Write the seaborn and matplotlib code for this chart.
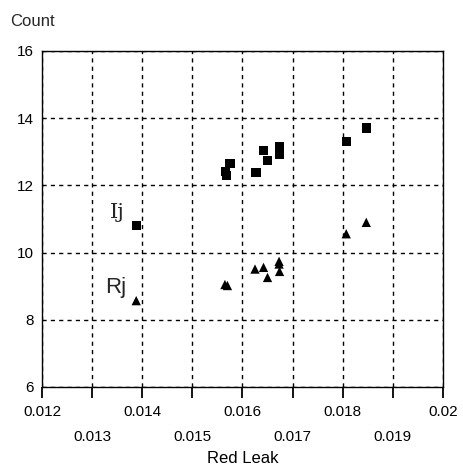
import numpy as np
import pandas as pd
import seaborn as sns
import matplotlib.pyplot as plt

# Ij (squares) and Rj (triangles)
ij_leak = [0.01388, 0.01566, 0.01568, 0.01575, 0.01627, 0.01642, 0.0165,
           0.01674, 0.01674, 0.01674, 0.01807, 0.01847]
ij_count = [10.8, 12.42, 12.30, 12.66, 12.38, 13.04, 12.75,
            13.16, 13.04, 12.92, 13.30, 13.71]

rj_leak = [0.01388, 0.01565, 0.0157, 0.01625, 0.01642, 0.0165,
           0.01673, 0.01673, 0.01674, 0.01807, 0.01847]
rj_count = [8.57, 9.05, 9.02, 9.51, 9.56, 9.26,
            9.74, 9.66, 9.44, 10.56, 10.9]

x_major = [0.012, 0.014, 0.016, 0.018, 0.02]
x_major_labels = ["0.012", "0.014", "0.016", "0.018", "0.02"]
x_minor = [0.013, 0.015, 0.017, 0.019]
x_minor_labels = ["0.013", "0.015", "0.017", "0.019"]
y_ticks = [6, 8, 10, 12, 14, 16]

df = pd.concat([
    pd.DataFrame({"leak": ij_leak, "count": ij_count, "series": "Ij"}),
    pd.DataFrame({"leak": rj_leak, "count": rj_count, "series": "Rj"}),
], ignore_index=True)

sns.set_style("ticks")
plt.rcParams['font.family'] = ['Liberation Sans', 'DejaVu Sans']

fig = plt.figure(figsize=(4.63, 4.70), dpi=100)
ax = fig.add_axes([0.0907, 0.1766, 0.866, 0.7149])

sns.scatterplot(data=df, x="leak", y="count", style="series",
                markers={"Ij": "s", "Rj": "^"}, color="black",
                s=45, edgecolor="black", linewidth=0, legend=False, ax=ax, zorder=3)

ax.set_xlim(0.012, 0.02)
ax.set_ylim(6, 16)
# two staggered rows of x labels: majors on top, minors below
ax.set_xticks(x_major)
ax.set_xticklabels(x_major_labels, fontsize=11)
ax.set_xticks(x_minor, minor=True)
ax.set_xticklabels(x_minor_labels, minor=True, fontsize=11)
ax.set_yticks(y_ticks)
ax.set_yticklabels([str(v) for v in y_ticks], fontsize=11)
ax.tick_params(axis="x", which="both", bottom=True, direction="out",
               length=8, width=1.3, color="black", labelcolor="black")
ax.tick_params(axis="x", which="major", pad=5)
ax.tick_params(axis="x", which="minor", pad=23)
ax.tick_params(axis="y", left=False, length=0, pad=6, labelcolor="black")

ax.grid(True, which="both", color="black", linestyle=(0, (3, 3)), linewidth=1)
for sp in ax.spines.values():
    sp.set_visible(True)
    sp.set_color("black")
    sp.set_linewidth(1)

ax.set_xlabel("Red Leak", fontsize=12, labelpad=5, color="black")
ax.set_ylabel("")
fig.text(0.022, 0.955, "Count", fontsize=12, ha="left", va="center")

ax.text(0.0135, 11.19, "Ij", fontsize=15, fontfamily="DejaVu Serif",
        ha="center", va="center")
ax.text(0.01348, 8.95, "Rj", fontsize=16, ha="center", va="center")

fig.savefig("out.png", dpi=100)
